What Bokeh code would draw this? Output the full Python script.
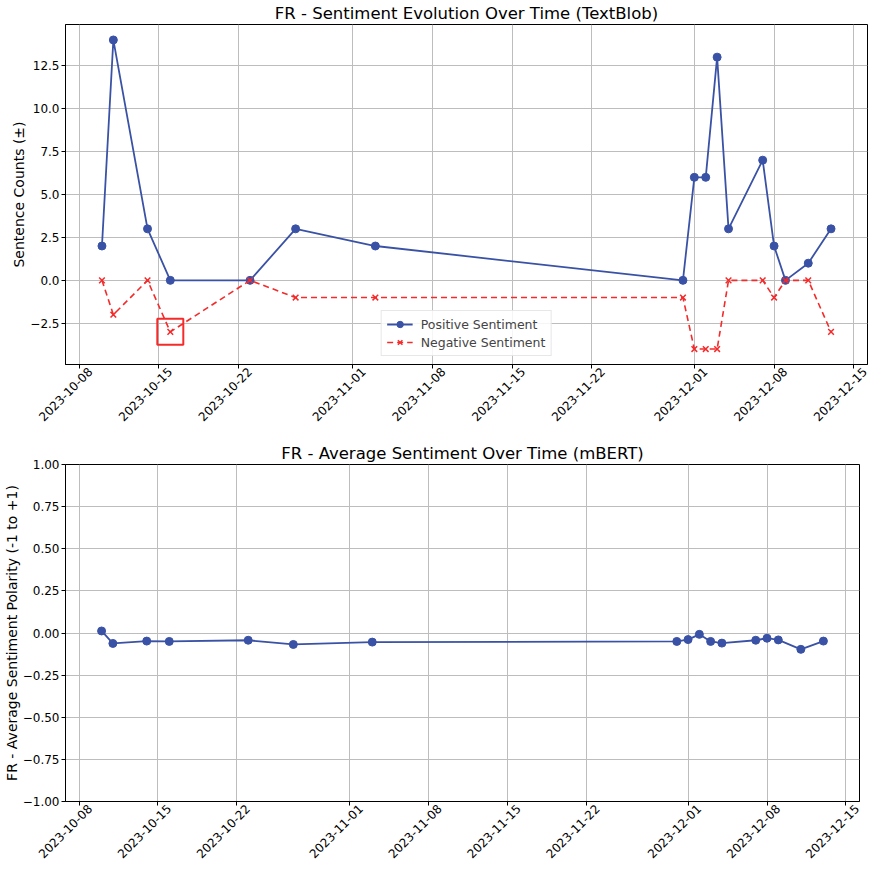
import math
import pandas as pd
from bokeh.plotting import figure
from bokeh.layouts import column
from bokeh.models import (FixedTicker, CustomJSTickFormatter, DatetimeAxis,
                          Range1d, ColumnDataSource, Legend, LegendItem)
from bokeh.embed import file_html
from bokeh.resources import INLINE

# ---------------- data ----------------
dates = ["2023-10-10", "2023-10-11", "2023-10-14", "2023-10-16", "2023-10-23",
         "2023-10-27", "2023-11-03", "2023-11-30", "2023-12-01", "2023-12-02",
         "2023-12-03", "2023-12-04", "2023-12-07", "2023-12-08", "2023-12-09",
         "2023-12-11", "2023-12-13"]
positive = [2, 14, 3, 0, 0, 3, 2, 0, 6, 6, 13, 3, 7, 2, 0, 1, 3]
negative = [0, -2, 0, -3, 0, -1, -1, -1, -4, -4, -4, 0, 0, -1, 0, 0, -3]
avg_polarity = [0.012, -0.062, -0.048, -0.050, -0.043, -0.068, -0.054, -0.050,
                -0.039, -0.008, -0.050, -0.060, -0.043, -0.031, -0.041, -0.097, -0.048]
highlight_date = "2023-10-16"
x_tick_labels = ["2023-10-08", "2023-10-15", "2023-10-22", "2023-11-01", "2023-11-08",
                 "2023-11-15", "2023-11-22", "2023-12-01", "2023-12-08", "2023-12-15"]
top_y_ticks = [-2.5, 0.0, 2.5, 5.0, 7.5, 10.0, 12.5]
bottom_y_ticks = [-1.0, -0.75, -0.5, -0.25, 0.0, 0.25, 0.5, 0.75, 1.0]

# ---------------- styles ----------------
FONT = "DejaVu Sans"
BLUE = "#3a52a6"
RED = "#f52a2a"
GRID = "#bdbdbd"
FRAME_W = 802
LABEL_SHIFT_PX = 11   # nudge rotated date labels towards being centred under ticks

x = pd.to_datetime(dates)
src = ColumnDataSource(dict(x=x, pos=positive, neg=negative, avg=avg_polarity))
hi = dates.index(highlight_date)
hi_src = ColumnDataSource(dict(x=[x[hi]], y=[negative[hi]]))

span = x.max() - x.min()
x_start = (x.min() - 0.05 * span).value / 1e6
x_end = (x.max() + 0.05 * span).value / 1e6
xticks_ms = [pd.Timestamp(d).value / 1e6 for d in x_tick_labels]
shift_ms = min(LABEL_SHIFT_PX * (x_end - x_start) / FRAME_W,
               x_end - max(xticks_ms) - 60000)
label_ticks_ms = [t + shift_ms for t in xticks_ms]

ymin, ymax = min(negative), max(positive)
ypad = 0.05 * (ymax - ymin)

minus_js = "return (Math.abs(tick) < 1e-9 ? 0 : tick).toFixed(%d).replace('-', '\u2212');"
date_js = "const d = new Date(Math.round(tick - shift)); return d.toISOString().slice(0, 10);"


def style(p, ylab, yticks, decimals):
    p.title.text_font = FONT
    p.title.text_font_size = "16.5px"
    p.title.text_font_style = "normal"
    p.title.text_color = "black"
    p.title.align = "center"
    p.title.standoff = 3
    p.outline_line_color = "black"
    p.outline_line_width = 1

    tick_axis = DatetimeAxis(ticker=FixedTicker(ticks=xticks_ms),
                             formatter=CustomJSTickFormatter(code="return '';"),
                             axis_line_color="black", major_tick_line_color="black",
                             minor_tick_line_color=None, major_tick_in=0, major_tick_out=4,
                             major_label_standoff=0, major_label_text_font_size="1px")
    label_axis = DatetimeAxis(ticker=FixedTicker(ticks=label_ticks_ms),
                              formatter=CustomJSTickFormatter(args=dict(shift=shift_ms), code=date_js),
                              axis_line_color=None, major_tick_line_color=None,
                              minor_tick_line_color=None, major_tick_in=0, major_tick_out=0,
                              major_label_standoff=1, major_label_orientation=math.pi / 4,
                              major_label_text_font=FONT, major_label_text_font_size="12px",
                              major_label_text_color="black")
    p.add_layout(tick_axis, "below")
    p.add_layout(label_axis, "below")
    p.xgrid.ticker = FixedTicker(ticks=xticks_ms)

    p.yaxis.ticker = FixedTicker(ticks=yticks)
    p.yaxis.formatter = CustomJSTickFormatter(code=minus_js % decimals)
    ya = p.yaxis[0]
    ya.axis_label = ylab
    ya.axis_line_color = "black"
    ya.major_tick_line_color = "black"
    ya.minor_tick_line_color = None
    ya.major_tick_in = 0
    ya.major_tick_out = 4
    ya.major_label_standoff = 2
    ya.major_label_text_font = FONT
    ya.major_label_text_font_size = "12px"
    ya.major_label_text_color = "black"
    ya.axis_label_text_font = FONT
    ya.axis_label_text_font_size = "14px"
    ya.axis_label_text_font_style = "normal"
    ya.axis_label_text_color = "black"
    ya.axis_label_standoff = 0
    p.grid.grid_line_color = GRID
    p.grid.grid_line_width = 1
    p.background_fill_color = "white"
    p.border_fill_color = "white"


# ---------------- top chart ----------------
p1 = figure(frame_width=FRAME_W, frame_height=340, output_backend="svg", toolbar_location=None,
            x_axis_location=None, title="FR - Sentiment Evolution Over Time (TextBlob)",
            x_range=Range1d(x_start, x_end),
            y_range=Range1d(ymin - ypad, ymax + ypad),
            min_border_left=56, min_border_right=10, min_border_top=0, min_border_bottom=72)
style(p1, "Sentence Counts (\u00b1)", top_y_ticks, 1)

l_pos = p1.line("x", "pos", source=src, line_color=BLUE, line_width=1.8)
s_pos = p1.scatter("x", "pos", source=src, marker="circle", size=8,
                   fill_color=BLUE, line_color=BLUE)
l_neg = p1.line("x", "neg", source=src, line_color=RED, line_width=1.6, line_dash="6 4")
s_neg = p1.scatter("x", "neg", source=src, marker="x", size=8,
                   line_color=RED, line_width=1.5)
p1.scatter("x", "y", source=hi_src, marker="square", size=26,
           fill_color=None, line_color=RED, line_width=2)

legend = Legend(items=[LegendItem(label="Positive Sentiment", renderers=[l_pos, s_pos]),
                       LegendItem(label="Negative Sentiment", renderers=[l_neg, s_neg])],
                location="bottom_center", margin=8, padding=5, spacing=2,
                glyph_width=26, glyph_height=16, label_standoff=8,
                label_text_font=FONT, label_text_font_size="12.5px",
                label_height=16,
                border_line_color="#d0d0d0", border_line_width=1,
                background_fill_color="white", background_fill_alpha=0.85)
p1.add_layout(legend, "center")

# ---------------- bottom chart ----------------
p2 = figure(frame_width=794, frame_height=337, output_backend="svg", toolbar_location=None,
            x_axis_location=None, title="FR - Average Sentiment Over Time (mBERT)",
            x_range=Range1d(x_start, x_end), y_range=Range1d(-1.0, 1.0),
            min_border_left=64, min_border_right=10, min_border_top=28, min_border_bottom=60)
style(p2, "FR - Average Sentiment Polarity (-1 to +1)", bottom_y_ticks, 2)
p2.line("x", "avg", source=src, line_color=BLUE, line_width=1.8)
p2.scatter("x", "avg", source=src, marker="circle", size=8, fill_color=BLUE, line_color=BLUE)

layout = column(p1, p2, spacing=0)
open("out.html", "w").write(file_html(layout, INLINE))
